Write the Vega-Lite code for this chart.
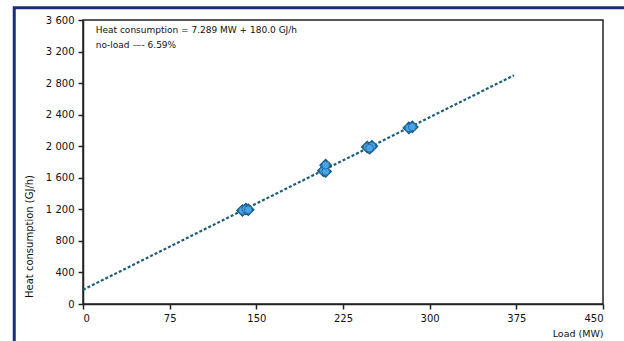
{
  "$schema": "https://vega.github.io/schema/vega-lite/v6.json",
  "width": 520,
  "height": 284,
  "autosize": {"type": "none"},
  "padding": {"left": 83, "top": 20, "right": 21, "bottom": 37},
  "background": "white",
  "config": {
    "font": "DejaVu Sans",
    "view": {"stroke": "#222222", "strokeWidth": 1.5},
    "axis": {"grid": false, "domainColor": "#222222", "domainWidth": 1.5, "tickColor": "#222222", "tickWidth": 1.5, "tickSize": 5, "labelFont": "DejaVu Sans", "labelFontSize": 10, "labelColor": "#111111", "titleFont": "DejaVu Sans", "titleFontSize": 9, "titleFontWeight": "normal", "titleColor": "#111111"}
  },
  "datasets": {
    "points": [
      {"load": 138, "heat": 1186},
      {"load": 141, "heat": 1205},
      {"load": 143, "heat": 1195},
      {"load": 208, "heat": 1690},
      {"load": 210, "heat": 1680},
      {"load": 210, "heat": 1760},
      {"load": 246, "heat": 1990},
      {"load": 250, "heat": 2000},
      {"load": 248, "heat": 1975},
      {"load": 282, "heat": 2232},
      {"load": 285, "heat": 2245}
    ],
    "fit": [
      {"load": 0, "heat": 180},
      {"load": 373, "heat": 2899}
    ],
    "notes": [
      {"label": "Heat consumption = 7.289 MW + 180.0 GJ/h", "load": 11, "heat": 3473},
      {"label": "no-load —- 6.59%", "load": 11, "heat": 3283}
    ],
    "frame": [
      {"load": -59.5, "heat": -1000},
      {"load": -59.5, "heat": 3755},
      {"load": 600, "heat": 3755}
    ]
  },
  "layer": [
    {
      "data": {"name": "fit"},
      "mark": {"type": "line", "color": "#1d5f78", "strokeWidth": 2.2, "strokeDash": [3, 2]},
      "encoding": {
        "x": {"field": "load", "type": "quantitative", "scale": {"domain": [0, 450], "nice": false},
          "axis": {"values": [0, 75, 150, 225, 300, 375, 450], "labelOverlap": false, "title": "Load (MW)", "titleFontSize": 9.5, "titleAnchor": "end", "titleAlign": "right", "titleBaseline": "middle", "titleX": 520, "titleY": 29, "labelPadding": 4}},
        "y": {"field": "heat", "type": "quantitative", "scale": {"domain": [0, 3600], "nice": false},
          "axis": {"values": [0, 400, 800, 1200, 1600, 2000, 2400, 2800, 3200, 3600], "tickCount": 10, "labelOverlap": false, "labelBound": false, "labelExpr": "replace(format(datum.value, ','), ',', ' ')", "title": "Heat consumption (GJ/h)", "titleFontSize": 10, "titleX": -49, "titleY": 216, "titleAlign": "center", "labelPadding": 4}}
      }
    },
    {
      "data": {"name": "points"},
      "mark": {"type": "point", "shape": "diamond", "filled": true, "size": 130, "fill": "#3f93d4", "stroke": "#15547e", "strokeWidth": 1.2, "opacity": 1},
      "encoding": {
        "x": {"field": "load", "type": "quantitative"},
        "y": {"field": "heat", "type": "quantitative"}
      }
    },
    {
      "data": {"name": "points"},
      "mark": {"type": "circle", "size": 60, "fill": "#4aa3e6", "stroke": "#1a5f8e", "strokeWidth": 0.8, "opacity": 1},
      "encoding": {
        "x": {"field": "load", "type": "quantitative"},
        "y": {"field": "heat", "type": "quantitative"}
      }
    },
    {
      "data": {"name": "notes"},
      "mark": {"type": "text", "align": "left", "baseline": "middle", "fontSize": 9, "color": "#111111", "font": "DejaVu Sans"},
      "encoding": {
        "x": {"field": "load", "type": "quantitative"},
        "y": {"field": "heat", "type": "quantitative"},
        "text": {"field": "label"}
      }
    },
    {
      "data": {"name": "frame"},
      "mark": {"type": "line", "color": "#1c2f72", "strokeWidth": 3, "clip": false},
      "encoding": {
        "x": {"field": "load", "type": "quantitative"},
        "y": {"field": "heat", "type": "quantitative"},
        "order": {"field": "load"}
      }
    }
  ]
}
